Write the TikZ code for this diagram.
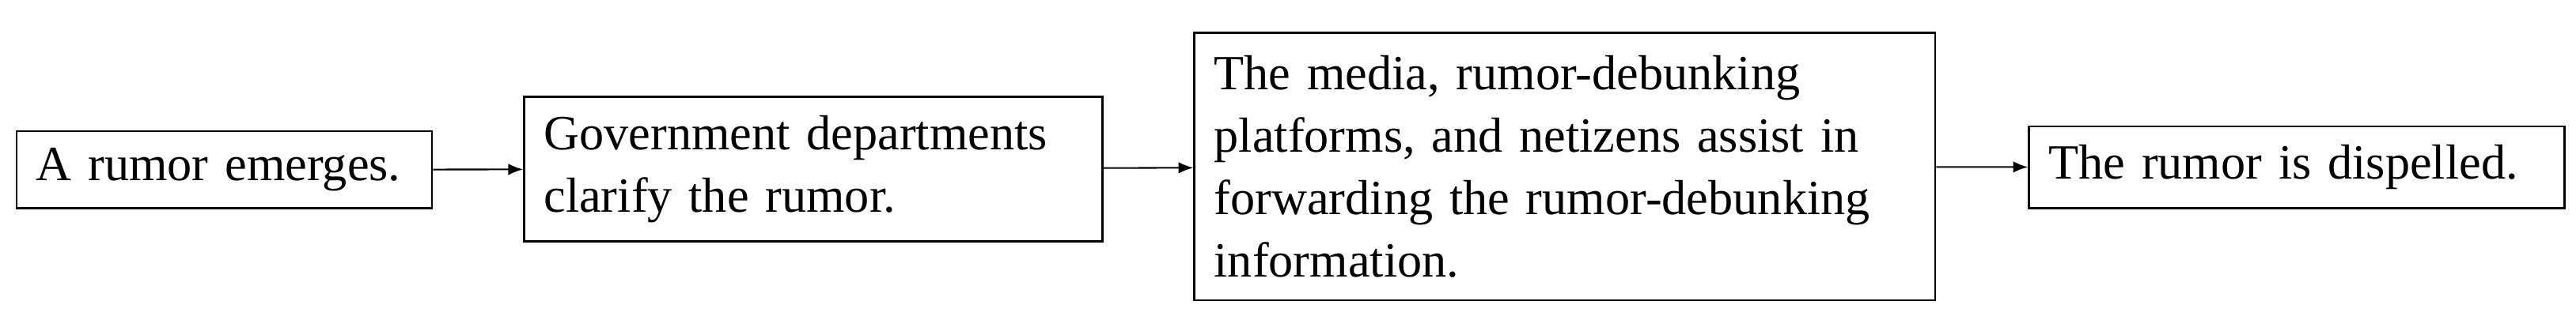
\documentclass[tikz,border=0pt]{standalone}
\usepackage{fontspec}
\setmainfont{Liberation Serif}
\usetikzlibrary{arrows.meta}
\begin{document}
\begin{tikzpicture}[x=1pt,y=-1pt,
  box/.style={draw,line width=1.2pt,inner xsep=12pt,inner ysep=0pt,align=left,
    font=\fontsize{30}{38}\selectfont},
  arr/.style={-{Latex[length=9pt,width=7pt]},line width=1pt}]
\useasboundingbox (0,0) rectangle (1568,204);
\node[box,minimum width=253pt,minimum height=47pt,text width=229pt] (a) at (136.5,103.5) {A rumor emerges.};
\node[box,minimum width=352pt,minimum height=88pt,text width=328pt] (b) at (495,103) {Government departments\\clarify the rumor.};
\node[box,minimum width=451pt,minimum height=163pt,text width=427pt] (c) at (952.5,101.5) {The media, rumor-debunking\\platforms, and netizens assist in\\forwarding the rumor-debunking\\information.};
\node[box,minimum width=326pt,minimum height=50pt,text width=302pt] (d) at (1398,102) {The rumor is dispelled.};
\draw[arr] (a) -- (b);
\draw[arr] (b) -- (c);
\draw[arr] (c) -- (d);
\end{tikzpicture}
\end{document}
